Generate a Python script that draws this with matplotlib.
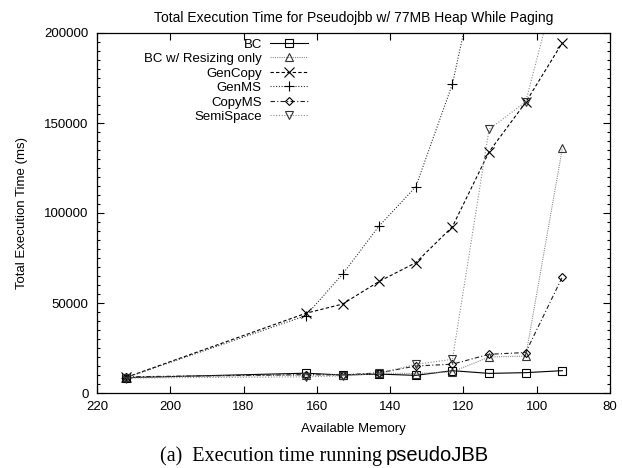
import matplotlib
matplotlib.use("Agg")
import matplotlib.pyplot as plt
from matplotlib.ticker import MultipleLocator

plt.rcParams["font.family"] = ["Liberation Sans", "DejaVu Sans"]

# Data
memory = [212, 163, 153, 143, 133, 123, 113, 103, 93]
bc = [8500, 11000, 10000, 10500, 9800, 12400, 10900, 11300, 12400]
bc_resize = [8800, 10000, 10200, 11000, 10800, 11800, 20000, 20500, 136000]
gencopy = [8700, 44300, 49400, 62000, 72400, 92400, 134000, 161500, 194600]
genms = [8600, 43000, 66000, 92800, 114600, 171700, 265000]
copyms = [9000, 10200, 10000, 11200, 15000, 16000, 21500, 22500, 64500]
semispace = [8300, 9000, 9500, 11000, 15900, 18700, 146500, 161800, 240000]

labels = ["BC", "BC w/ Resizing only", "GenCopy", "GenMS", "CopyMS", "SemiSpace"]

W, H = 622, 468
fig = plt.figure(figsize=(W / 100, H / 100), dpi=100)
ax = fig.add_axes([97 / W, 1 - 393 / H, 513 / W, 360 / H])

lw = 0.8
ms = 6
ax.plot(memory, bc, color="black", lw=lw, marker="s", ms=ms, mfc="none",
        mec="black", mew=0.8, label=labels[0])
ax.plot(memory, bc_resize, color="#8c8c8c", lw=lw, ls=(0, (1, 1)), marker="^",
        ms=ms, mfc="none", mec="#333333", mew=0.8, label=labels[1])
ax.plot(memory, gencopy, color="black", lw=lw, ls=(0, (3, 2)), marker="x",
        ms=ms + 1, mec="black", mew=0.8, label=labels[2])
ax.plot(memory[:len(genms)], genms, color="#333333", lw=lw, ls=(0, (1, 1.5)),
        marker="+", ms=ms + 1, mec="black", mew=0.8, label=labels[3])
ax.plot(memory, copyms, color="#222222", lw=lw, ls=(0, (4, 2, 1, 2)), marker="D",
        ms=ms - 1.5, mfc="none", mec="black", mew=0.8, label=labels[4])
ax.plot(memory, semispace, color="#8c8c8c", lw=lw, ls=(0, (1, 1.5)), marker="v",
        ms=ms, mfc="none", mec="#333333", mew=0.8, label=labels[5])

ax.set_xlim(220, 80)
ax.set_ylim(0, 200000)
ax.xaxis.set_major_locator(MultipleLocator(20))
ax.yaxis.set_major_locator(MultipleLocator(50000))
ax.yaxis.set_minor_locator(MultipleLocator(5000))
ax.tick_params(which="both", direction="in", top=True, right=True,
               labelsize=9.5, width=0.8)
ax.tick_params(which="major", length=5, pad=6)
ax.tick_params(which="minor", length=2.5)
for s in ax.spines.values():
    s.set_linewidth(0.9)

ax.set_title("Total Execution Time for Pseudojbb w/ 77MB Heap While Paging",
             fontsize=10, pad=8)
ax.set_xlabel("Available Memory", fontsize=9.5, labelpad=7)
ax.set_ylabel("Total Execution Time (ms)", fontsize=9.5, labelpad=12)

leg = ax.legend(loc="upper right", bbox_to_anchor=((308 - 97) / 513, 0.985),
                frameon=False, markerfirst=False, fontsize=9.5,
                handlelength=2.9, handletextpad=0.6, labelspacing=0.17,
                borderpad=0, borderaxespad=0)

# caption below the chart
fig.text(382 / W, 1 - 461 / H, "(a)  Execution time running",
         family="Liberation Serif", fontsize=14.5, ha="right", va="baseline")
fig.text(386 / W, 1 - 461 / H, "pseudoJBB",
         family="Liberation Sans", fontsize=14.5, ha="left", va="baseline")

fig.savefig("out.png", dpi=100)
